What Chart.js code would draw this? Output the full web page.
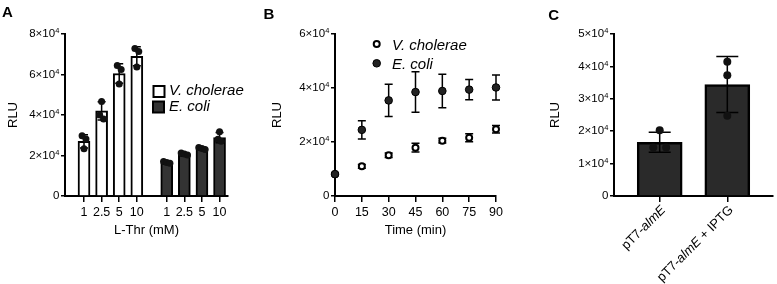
<!DOCTYPE html>
<html><head><meta charset="utf-8">
<script src="https://cdn.jsdelivr.net/npm/chart.js@4.4.1/dist/chart.umd.min.js"></script>
<style>
html,body{margin:0;padding:0;background:#fff;}
#wrap{position:relative;width:777px;height:284px;overflow:hidden;background:#fff;}
canvas{position:absolute;top:0;}
</style></head><body>
<div id="wrap">
<canvas id="cA" width="262" height="284" style="left:0px;width:262px;height:284px"></canvas>
<canvas id="cB" width="268" height="284" style="left:262px;width:268px;height:284px"></canvas>
<canvas id="cC" width="247" height="284" style="left:530px;width:247px;height:284px"></canvas>
</div>
<script>
// ---------------- DATA ----------------
// Panel A: luminescence vs L-Thr concentration
const thrLabels = ['1', '2.5', '5', '10'];
const vcThrMean = [27000, 42000, 60500, 69000];
const vcThrErr  = [3300, 4500, 4800, 4700];
const vcThrReps = [[29800, 28100, 23300], [46700, 40000, 38000], [64500, 62500, 55300], [72800, 71300, 63700]];
const ecThrMean = [16500, 20500, 23500, 28800];
const ecThrErr  = [600, 700, 600, 2500];
const ecThrReps = [[17000, 16500, 16200], [21200, 20700, 20300], [24000, 23500, 23000], [31700, 28000, 27000]];
const yTicksA = [0, 20000, 40000, 60000, 80000];

// Panel B: time course
const timeMin   = [0, 15, 30, 45, 60, 75, 90];
const vcTime    = [8100, 11000, 15100, 17900, 20500, 21600, 24750];
const vcTimeErr = [300, 700, 800, 1600, 900, 1500, 1400];
const ecTime    = [8100, 24500, 35400, 38500, 38900, 39400, 40200];
const ecTimeErr = [300, 3400, 6000, 7500, 6200, 3750, 4650];
const yTicksB = [0, 20000, 40000, 60000];

// Panel C: constructs
const constructLabels = ['pT7-almE', 'pT7-almE + IPTG'];
const cMean = [16600, 34400];
const cErr  = [3100, 8650];
const cReps = [[20300, 15000, 15000], [41400, 37300, 24800]];
const yTicksC = [0, 10000, 20000, 30000, 40000, 50000];

const seriesNames = ['V. cholerae', 'E. coli'];

// ---------------- HELPERS ----------------
const FONT = "'Liberation Sans', Arial, Helvetica, sans-serif";
Chart.defaults.font.family = FONT;
Chart.defaults.color = '#000';

// spread replicates with near-equal values side by side (like a column scatter)
function spread(vals, tol, step) {
  const out = vals.map(() => 0), used = new Set();
  vals.forEach((v, i) => {
    if (used.has(i)) return;
    const grp = [i];
    vals.forEach((w, j) => { if (j > i && !used.has(j) && Math.abs(w - v) < tol) grp.push(j); });
    grp.forEach((j, k) => { used.add(j); out[j] = (k - (grp.length - 1) / 2) * step; });
  });
  return out;
}
function repPoints(positions, reps, tol, step) {
  const pts = [];
  reps.forEach((vals, i) => {
    const off = spread(vals, tol, step);
    vals.forEach((v, j) => pts.push({ x: positions[i] + off[j], y: v }));
  });
  return pts;
}

function errPlugin(specs) {
  function draw(chart, s) {
    const meta = chart.getDatasetMeta(s.ds);
    const ys = chart.scales.y, ctx = chart.ctx;
    const data = chart.data.datasets[s.ds].data;
    ctx.save();
    ctx.strokeStyle = '#000'; ctx.lineWidth = s.lw || 1.5;
    meta.data.forEach((el, i) => {
      const m = data[i].y, e = s.err[i], x = el.x;
      const y1 = ys.getPixelForValue(m + e), y2 = ys.getPixelForValue(m - e);
      ctx.beginPath();
      ctx.moveTo(x, y1); ctx.lineTo(x, y2);
      ctx.moveTo(x - s.cap / 2, y1); ctx.lineTo(x + s.cap / 2, y1);
      ctx.moveTo(x - s.cap / 2, y2); ctx.lineTo(x + s.cap / 2, y2);
      ctx.stroke();
    });
    ctx.restore();
  }
  return {
    id: 'errbars',
    beforeDatasetDraw(chart, args) { specs.filter(s => s.when === 'before' && s.ds === args.index).forEach(s => draw(chart, s)); },
    afterDatasetDraw(chart, args) { specs.filter(s => s.when !== 'before' && s.ds === args.index).forEach(s => draw(chart, s)); }
  };
}
// y tick labels in "n×10^4" form with a real superscript
const sciTickPlugin = {
  id: 'sciTicks',
  afterDraw(chart) {
    const ctx = chart.ctx, ys = chart.scales.y, xr = chart.chartArea.left - 5.5;
    ctx.save();
    ctx.fillStyle = '#000';
    ys.ticks.forEach(t => {
      const v = t.value, y = ys.getPixelForValue(v);
      if (v === 0) {
        ctx.font = '11.5px ' + FONT; ctx.textAlign = 'right'; ctx.textBaseline = 'middle';
        ctx.fillText('0', xr, y);
        return;
      }
      ctx.font = '7.5px ' + FONT;
      const supW = ctx.measureText('4').width;
      ctx.textAlign = 'left'; ctx.textBaseline = 'alphabetic';
      ctx.fillText('4', xr - supW, y - 0.8);
      ctx.font = '11.5px ' + FONT; ctx.textAlign = 'right'; ctx.textBaseline = 'middle';
      ctx.fillText((v / 1e4) + '\u00d710', xr - supW - 0.3, y);
    });
    ctx.restore();
  }
};
function decorPlugin(fn) {
  return { id: 'decor', afterDraw(chart) { const ctx = chart.ctx; ctx.save(); fn(ctx, chart); ctx.restore(); } };
}
function panelLetter(ctx, t, x, y) {
  ctx.font = 'bold 15px ' + FONT; ctx.fillStyle = '#000';
  ctx.textAlign = 'left'; ctx.textBaseline = 'alphabetic';
  ctx.fillText(t, x, y);
}
function italicText(ctx, t, x, y) {
  ctx.font = 'italic 15px ' + FONT; ctx.fillStyle = '#000';
  ctx.textAlign = 'left'; ctx.textBaseline = 'alphabetic';
  ctx.fillText(t, x, y);
}

function axisY(ticksArr, titlePad, width) {
  return {
    type: 'linear', min: ticksArr[0], max: ticksArr[ticksArr.length - 1],
    afterBuildTicks: s => { s.ticks = ticksArr.map(v => ({ value: v })); },
    ticks: { display: false, autoSkip: false },
    grid: { drawOnChartArea: false, drawTicks: true, tickLength: 4, color: '#000', lineWidth: 1.5 },
    border: { display: true, color: '#000', width: 2 },
    title: { display: true, text: 'RLU', font: { size: 13 }, color: '#000', padding: { top: titlePad, bottom: 0 } },
    afterFit: s => { s.width = width; }
  };
}
function axisX(min, max, tickPos, tickLabels, title, showLabels) {
  return {
    type: 'linear', min: min, max: max, offset: false,
    afterBuildTicks: s => { s.ticks = tickPos.map(v => ({ value: v })); },
    ticks: { display: showLabels, callback: (v, i) => tickLabels[i], font: { size: 12.5 }, color: '#000', padding: 3, autoSkip: false, maxRotation: 0 },
    grid: { drawOnChartArea: false, drawTicks: true, tickLength: 6, color: '#000', lineWidth: 1.5, offset: false },
    border: { display: true, color: '#000', width: 2 },
    title: { display: !!title, text: title || '', font: { size: 13 }, color: '#000', padding: { top: 0, bottom: 46 } },
    afterFit: s => { s.height = 88; }
  };
}
const common = { responsive: false, animation: false, devicePixelRatio: 1, events: [],
  plugins: { legend: { display: false }, tooltip: { enabled: false } } };

// ---------------- PANEL A ----------------
const GROUP_GAP = 4.7;
const posVc = thrLabels.map((_, i) => i);
const posEc = thrLabels.map((_, i) => i + GROUP_GAP);
new Chart(document.getElementById('cA'), {
  type: 'bar',
  data: {
    datasets: [
      { type: 'line', showLine: false, order: 1, clip: false, data: repPoints(posVc, vcThrReps, 2500, 0.22),
        pointRadius: 3.5, pointBackgroundColor: '#111', pointBorderColor: '#000', pointBorderWidth: 0 },
      { type: 'line', showLine: false, order: 1, clip: false, data: repPoints(posEc, ecThrReps, 1200, 0.18),
        pointRadius: 3.5, pointBackgroundColor: '#111', pointBorderColor: '#000', pointBorderWidth: 0 },
      { label: seriesNames[0], order: 2, grouped: false, barThickness: 12,
        data: posVc.map((x, i) => ({ x: x, y: vcThrMean[i] })),
        backgroundColor: '#fff', borderColor: '#000', borderWidth: 2 },
      { label: seriesNames[1], order: 2, grouped: false, barThickness: 12,
        data: posEc.map((x, i) => ({ x: x, y: ecThrMean[i] })),
        backgroundColor: '#333', borderColor: '#000', borderWidth: 2 }
    ]
  },
  options: Object.assign({}, common, {
    layout: { padding: { top: 34, right: 34, left: 0, bottom: 0 } },
    scales: {
      x: axisX(-1.08, 8.18, posVc.concat(posEc), thrLabels.concat(thrLabels), 'L-Thr (mM)', true),
      y: axisY(yTicksA, 6, 65)
    }
  }),
  plugins: [
    errPlugin([{ ds: 2, err: vcThrErr, cap: 8 }, { ds: 3, err: ecThrErr, cap: 8 }]),
    sciTickPlugin,
    decorPlugin((ctx) => {
      panelLetter(ctx, 'A', 2, 17);
      ctx.lineWidth = 2; ctx.strokeStyle = '#000';
      ctx.fillStyle = '#fff'; ctx.fillRect(153.5, 86, 11, 11); ctx.strokeRect(153.5, 86, 11, 11);
      ctx.fillStyle = '#333'; ctx.fillRect(153, 101.5, 11, 11); ctx.strokeRect(153, 101.5, 11, 11);
      italicText(ctx, seriesNames[0], 169, 94.5);
      italicText(ctx, seriesNames[1], 169, 111);
    })
  ]
});

// ---------------- PANEL B ----------------
new Chart(document.getElementById('cB'), {
  type: 'line',
  data: {
    datasets: [
      { label: seriesNames[1], order: 1, showLine: false, clip: false,
        data: timeMin.map((t, i) => ({ x: t, y: ecTime[i] })),
        pointRadius: 3.8, pointBackgroundColor: '#222', pointBorderColor: '#000', pointBorderWidth: 1 },
      { label: seriesNames[0], order: 2, showLine: false, clip: false,
        data: timeMin.map((t, i) => ({ x: t, y: vcTime[i] })),
        pointRadius: 3, pointBackgroundColor: '#fff', pointBorderColor: '#000', pointBorderWidth: 2 }
    ]
  },
  options: Object.assign({}, common, {
    layout: { padding: { top: 34, right: 34, left: 0, bottom: 0 } },
    scales: {
      x: axisX(0, 90, timeMin, timeMin.map(String), 'Time (min)', true),
      y: axisY(yTicksB, 8, 73)
    }
  }),
  plugins: [
    errPlugin([{ ds: 1, err: vcTimeErr, cap: 8, when: 'before' }, { ds: 0, err: ecTimeErr, cap: 8, when: 'before' }]),
    sciTickPlugin,
    decorPlugin((ctx) => {
      panelLetter(ctx, 'B', 1.5, 19);
      ctx.lineWidth = 2; ctx.strokeStyle = '#000'; ctx.fillStyle = '#fff';
      ctx.beginPath(); ctx.arc(114.7, 44, 3, 0, Math.PI * 2); ctx.fill(); ctx.stroke();
      ctx.lineWidth = 1; ctx.fillStyle = '#222';
      ctx.beginPath(); ctx.arc(114.7, 63.3, 3.8, 0, Math.PI * 2); ctx.fill(); ctx.stroke();
      italicText(ctx, seriesNames[0], 130, 50);
      italicText(ctx, seriesNames[1], 130, 69);
    })
  ]
});

// ---------------- PANEL C ----------------
const posC = constructLabels.map((_, i) => i);
new Chart(document.getElementById('cC'), {
  type: 'bar',
  data: {
    datasets: [
      { type: 'line', showLine: false, order: 1, clip: false, data: repPoints(posC, cReps, 2000, 0.19),
        pointRadius: 4, pointBackgroundColor: '#111', pointBorderColor: '#000', pointBorderWidth: 0 },
      { order: 2, grouped: false, barThickness: 45,
        data: posC.map((x, i) => ({ x: x, y: cMean[i] })),
        backgroundColor: '#2a2a2a', borderColor: '#000', borderWidth: 2.5 }
    ]
  },
  options: Object.assign({}, common, {
    layout: { padding: { top: 34, right: 3, left: 0, bottom: 0 } },
    scales: {
      x: axisX(-0.676, 1.676, posC, constructLabels, '', false),
      y: axisY(yTicksC, 18, 84)
    }
  }),
  plugins: [
    errPlugin([{ ds: 1, err: cErr, cap: 22 }]),
    sciTickPlugin,
    decorPlugin((ctx, chart) => {
      panelLetter(ctx, 'C', 18.3, 20);
      const xs = chart.scales.x, bottom = chart.chartArea.bottom;
      constructLabels.forEach((lab, i) => {
        const x = xs.getPixelForValue(posC[i]);
        const parts = lab.split(/(almE)/).filter(p => p.length);
        const fonts = parts.map(p => (p === 'almE' ? 'italic ' : '') + '13px ' + FONT);
        let total = 0;
        const widths = parts.map((p, k) => { ctx.font = fonts[k]; const w = ctx.measureText(p).width; total += w; return w; });
        ctx.save();
        ctx.translate(x + 4, bottom + 12);
        ctx.rotate(-Math.PI / 4);
        ctx.fillStyle = '#000'; ctx.textBaseline = 'middle'; ctx.textAlign = 'left';
        let cx = -total;
        parts.forEach((p, k) => { ctx.font = fonts[k]; ctx.fillText(p, cx, 0); cx += widths[k]; });
        ctx.restore();
      });
    })
  ]
});
</script>
</body></html>
